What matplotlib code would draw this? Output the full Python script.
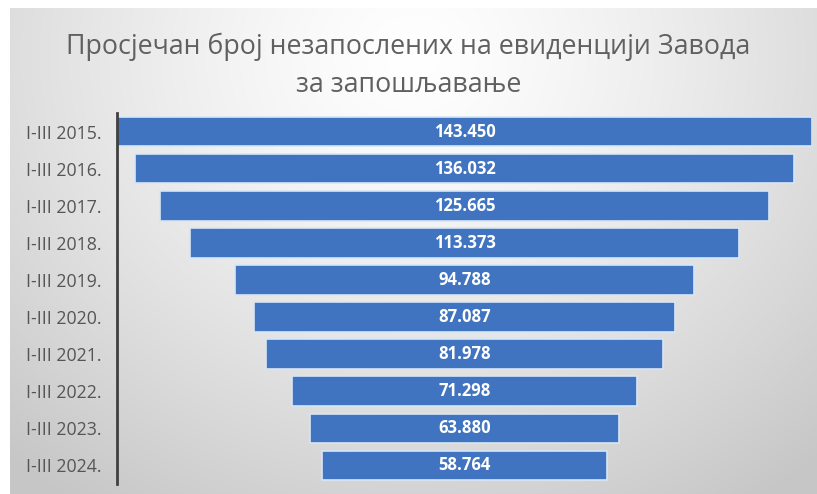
# Просјечан број незапослених - funnel
import numpy as np
import matplotlib.pyplot as plt

periods = ['I-III 2015.', 'I-III 2016.', 'I-III 2017.', 'I-III 2018.', 'I-III 2019.',
           'I-III 2020.', 'I-III 2021.', 'I-III 2022.', 'I-III 2023.', 'I-III 2024.']
values = [143450, 136032, 125665, 113373, 94788, 87087, 81978, 71298, 63880, 58764]
labels = ['143.450', '136.032', '125.665', '113.373', '94.788',
          '87.087', '81.978', '71.298', '63.880', '58.764']

plt.rcParams['font.family'] = ['Open Sans', 'DejaVu Sans']

fig = plt.figure(figsize=(8.17, 4.94), dpi=100)
fig.patch.set_facecolor('white')

# background panel with soft radial gradient
bg = fig.add_axes([10 / 817, 0, 807 / 817, 486 / 494])
yy, xx = np.mgrid[0:1:300j, 0:1:500j]
r = np.sqrt(((xx - 0.5) / 0.75) ** 2 + ((yy - 0.1) / 1.1) ** 2)
shade = 1 - 0.22 * np.clip(r, 0, 1) ** 1.3
bg.imshow(np.dstack([shade] * 3), aspect='auto', extent=[0, 1, 1, 0])
bg.axis('off')

fig.text(0.5, 1 - 47 / 494, 'Просјечан број незапослених на евиденцији Завода',
         ha='center', va='center', fontsize=19.3, color='#606060')
fig.text(0.5, 1 - 85 / 494, 'за запошљавање',
         ha='center', va='center', fontsize=19.3, color='#606060')

ax = fig.add_axes([117 / 817, 10 / 494, 695 / 817, 371 / 494])
ax.patch.set_alpha(0)
top = max(values)
y = np.arange(len(values))
lefts = [(top - v) / 2 for v in values]
ax.barh(y, values, left=lefts, height=0.8, color='#4174c0',
        edgecolor='#d6e6f7', linewidth=1.2)
for yi, v, l, lab in zip(y, values, lefts, labels):
    ax.text(l + v / 2, yi, lab, ha='center', va='center', color='white',
            fontsize=12, fontweight='bold')

ax.set_xlim(0, top)
ax.set_ylim(len(values) - 0.5, -0.5)
ax.set_yticks(y)
ax.set_yticklabels(periods, fontsize=12.8, color='#555555')
ax.tick_params(axis='y', length=0, pad=11)
ax.set_xticks([])
for s in ['top', 'right', 'bottom']:
    ax.spines[s].set_visible(False)
ax.spines['left'].set_color('#404040')
ax.spines['left'].set_linewidth(2)

fig.savefig('out.png', dpi=100)
